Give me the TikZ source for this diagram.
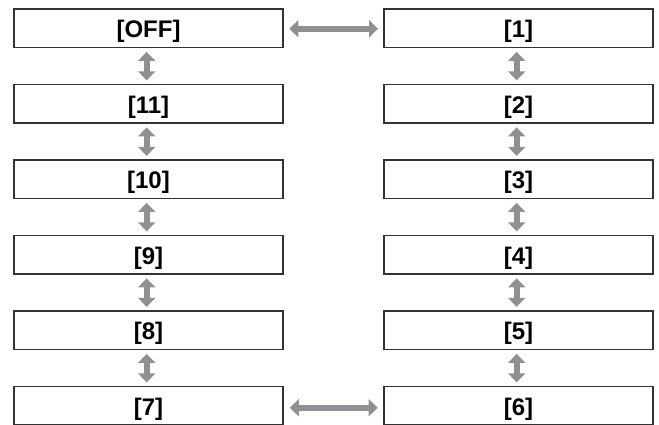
\documentclass[tikz,border=0pt]{standalone}
\usepackage{fontspec}
\setmainfont{Liberation Sans}
\usetikzlibrary{arrows.meta}
\definecolor{boxline}{HTML}{333333}
\definecolor{arrgray}{HTML}{8E9093}
\tikzset{
  stepbox/.style={draw=boxline, line width=1.3pt, minimum width=269pt, minimum height=38.5pt,
    inner sep=0pt, text height=19pt, text depth=0pt, font=\fontsize{24}{26}\selectfont\bfseries},
  dbl/.style={draw=arrgray, line width=5.6pt,
    {Triangle[width=17pt,length=9pt]}-{Triangle[width=17pt,length=9pt]}}
}
\begin{document}
\begin{tikzpicture}[x=1pt,y=-1pt]
\useasboundingbox (0,0) rectangle (659,424);
\node[stepbox] (off) at (148.5,28.25) {[OFF]};
\node[stepbox] (b11) at (148.5,103.75) {[11]};
\node[stepbox] (b10) at (148.5,179.25) {[10]};
\node[stepbox] (b9) at (148.5,254.75) {[9]};
\node[stepbox] (b8) at (148.5,330.25) {[8]};
\node[stepbox] (b7) at (148.5,405.75) {[7]};
\node[stepbox] (b1) at (518.5,28.25) {[1]};
\node[stepbox] (b2) at (518.5,103.75) {[2]};
\node[stepbox] (b3) at (518.5,179.25) {[3]};
\node[stepbox] (b4) at (518.5,254.75) {[4]};
\node[stepbox] (b5) at (518.5,330.25) {[5]};
\node[stepbox] (b6) at (518.5,405.75) {[6]};
\foreach \a/\b in {off/b11,b11/b10,b10/b9,b9/b8,b8/b7,b1/b2,b2/b3,b3/b4,b4/b5,b5/b6}{
  \draw[dbl] ([xshift=-1.8pt,yshift=-3.75pt]\a.south) -- ([xshift=-1.8pt,yshift=3.5pt]\b.north);
}
\draw[dbl] ([xshift=5.7pt,yshift=-0.5pt]off.east) -- ([xshift=-5.3pt,yshift=-0.5pt]b1.west);
\draw[dbl] ([xshift=6.2pt,yshift=-2pt]b7.east) -- ([xshift=-5.7pt,yshift=-2pt]b6.west);
\end{tikzpicture}
\end{document}
